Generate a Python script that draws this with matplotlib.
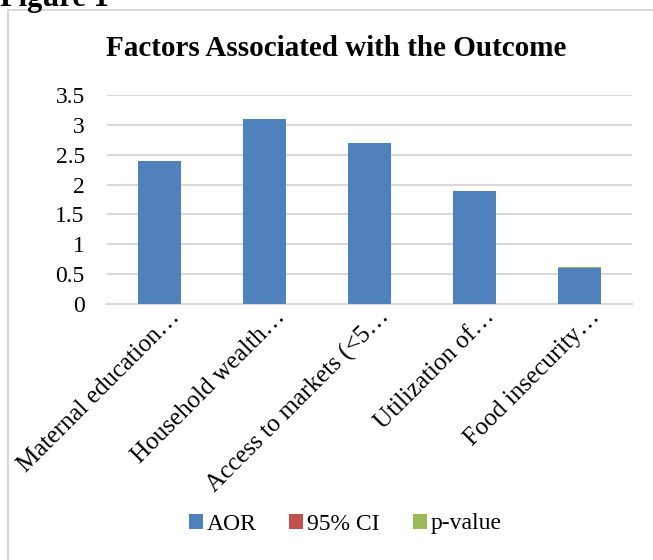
import numpy as np
import matplotlib.pyplot as plt
from matplotlib.patches import Rectangle
from matplotlib.transforms import ScaledTranslation

plt.rcParams['font.family'] = ['Liberation Serif', 'DejaVu Serif']

# Factores y valores por serie
factores = ['Maternal education…', 'Household wealth…', 'Access to markets (<5…',
            'Utilization of…', 'Food insecurity…']
aor = [2.4, 3.1, 2.7, 1.9, 0.6]
ic95 = [0, 0, 0, 0, 0]
p_valor = [0, 0, 0, 0, 0.02]

azul = '#4f81bd'
rojo = '#c0504d'
verde = '#9bbb59'

fig = plt.figure(figsize=(6.53, 5.60), dpi=100)

# Marco del gráfico
fig.patches.append(Rectangle((8 / 653, -0.1), 1.0, 1.1 - 10 / 560,
                             transform=fig.transFigure, fill=False,
                             edgecolor='#d9d9d9', linewidth=1.5))

fig.text(0.0, 1 - 6 / 560, 'Figure 1', fontsize=22, fontweight='bold',
         ha='left', va='baseline')

ax = fig.add_axes([107 / 653, 1 - 304 / 560, (632 - 107) / 653, (304 - 95) / 560])

x = np.arange(len(factores))
ancho = 0.41
base = np.array(aor)
ax.bar(x, aor, ancho, color=azul, label='AOR', zorder=3)
ax.bar(x, ic95, ancho, bottom=base, color=rojo, label='95% CI', zorder=3)
base = base + np.array(ic95)
ax.bar(x, p_valor, ancho, bottom=base, color=verde, label='p-value', zorder=3)

ax.set_xlim(-0.5, len(factores) - 0.5)
ax.set_ylim(0, 3.5)
ax.set_yticks(np.arange(0, 3.51, 0.5))
ax.set_yticklabels(['0', '0.5', '1', '1.5', '2', '2.5', '3', '3.5'], fontsize=17)
ax.yaxis.grid(True, color='#d9d9d9', linewidth=1.5, zorder=0)
ax.set_axisbelow(True)

ax.set_xticks(x)
ax.set_xticklabels(factores, rotation=45, ha='right', va='center',
                   rotation_mode='anchor', fontsize=18)
ax.tick_params(axis='y', length=0, pad=16)
ax.tick_params(axis='x', length=0, pad=7)
desplaza = ScaledTranslation(17 / 100, 0, fig.dpi_scale_trans)
for etiqueta in ax.get_xticklabels():
    etiqueta.set_transform(etiqueta.get_transform() + desplaza)

for lado in ['top', 'right', 'left']:
    ax.spines[lado].set_visible(False)
ax.spines['bottom'].set_color('#d9d9d9')
ax.spines['bottom'].set_linewidth(1.5)

fig.text(336 / 653, 1 - 48 / 560, 'Factors Associated with the Outcome',
         fontsize=21, fontweight='bold', ha='center', va='center')

fig.legend(loc='center', bbox_to_anchor=(345 / 653, 1 - 524 / 560), ncol=3,
           frameon=False, fontsize=17, handlelength=0.6, handleheight=0.6,
           handletextpad=0.15, columnspacing=1.4)

plt.savefig('out.png', dpi=100)
